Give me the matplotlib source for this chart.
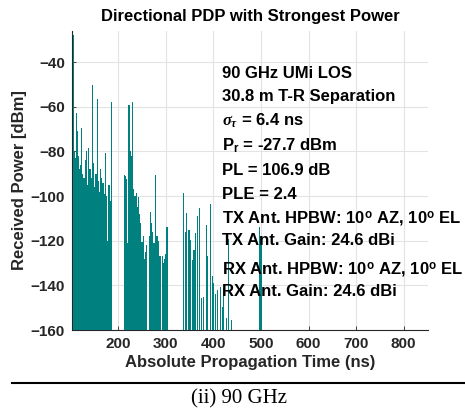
import matplotlib
matplotlib.use("Agg")
from matplotlib import pyplot as plt
from matplotlib.lines import Line2D

plt.rcParams["font.family"] = ["Liberation Sans", "DejaVu Sans"]
plt.rcParams["font.weight"] = "bold"
plt.rcParams["mathtext.fontset"] = "custom"
plt.rcParams["mathtext.rm"] = "Liberation Sans:bold"
plt.rcParams["mathtext.it"] = "Liberation Serif:italic"
plt.rcParams["mathtext.bf"] = "Liberation Sans:bold"

# cluster 1
delay_c1 = [105.5, 108, 110, 112, 114, 116, 118, 120.5, 123, 125.5, 128, 130.5,
            133, 135.5, 138, 140.5, 143, 145.5, 148, 150.5, 153, 155.5, 158, 160.5,
            163, 165.5, 168, 170.5, 173, 175.5, 178, 180.5, 183, 185.5]
power_c1 = [-27.7, -80, -83, -62.8, -71, -82, -88, -86, -69.6, -90, -92, -84,
            -80, -95, -78.5, -88, -92, -50.3, -85, -96, -90, -56.6, -93, -98,
            -88, -92, -94, -99, -80.7, -100, -120, -95, -102, -58]

# cluster 2
delay_c2 = [212.5, 215, 217.5, 220, 222.5, 225, 227.5, 230, 232.5, 235, 237.5, 240,
            242.5, 245, 247.5, 250, 252.5, 255, 257.5, 260, 265, 267.5, 270, 272.5,
            275, 277.5, 280, 282.5, 285, 287.5, 292.5, 295, 297.5, 300, 302.5]
power_c2 = [-90.6, -91, -92.4, -121, -59.3, -80, -82, -57.8, -97, -100, -98.5, -105,
            -100.3, -108, -112, -120.5, -118, -128, -125, -122, -118, -107, -112, -116,
            -121, -90.6, -118, -118, -120, -127, -127, -130, -128, -126, -113.7]

# cluster 3
delay_c3 = [336.8, 341.6, 343.7, 348.5, 350.6, 355.6, 359, 362.5, 366.1, 371.5, 375.1,
            379.9, 384.9, 388.3, 393.9, 397.5, 400.8, 404.4, 408, 414.8, 418.4, 421.7,
            427.4, 432.2, 437.2]
power_c3 = [-98.8, -116, -107.5, -115, -119.7, -128.7, -124, -116.7, -109, -105.5, -145.7,
            -145, -113, -127, -103.6, -136, -139, -144, -142, -140.6, -149.6, -141,
            -154.6, -119, -155.5]

# late arrivals
delay_c4 = [497, 500]
power_c4 = [-113.7, -118]

info_lines = ["90 GHz UMi LOS", "30.8 m T-R Separation", r"$\sigma_\tau$ = 6.4 ns",
              r"P$_\mathrm{r}$ = -27.7 dBm", "PL = 106.9 dB", "PLE = 2.4",
              r"TX Ant. HPBW: 10$^\mathrm{o}$ AZ, 10$^\mathrm{o}$ EL",
              "TX Ant. Gain: 24.6 dBi",
              r"RX Ant. HPBW: 10$^\mathrm{o}$ AZ, 10$^\mathrm{o}$ EL",
              "RX Ant. Gain: 24.6 dBi"]
info_y = [73, 97, 121, 146, 170, 194, 219, 240, 270, 292]

floor = -160
teal = "#00807f"

fig = plt.figure(figsize=(4.65, 4.15), dpi=100)
ax = fig.add_axes([72 / 465, 1 - 330 / 415, 356 / 465, 299 / 415])

delays = delay_c1 + delay_c2 + delay_c3 + delay_c4
powers = power_c1 + power_c2 + power_c3 + power_c4
ax.bar(delays, [p - floor for p in powers], bottom=floor, width=2.5,
       color=teal, edgecolor="none", linewidth=0, zorder=2)

ax.set_xlim(102.7, 851)
ax.set_ylim(-160, -26)
ax.set_xticks([200, 300, 400, 500, 600, 700, 800])
ax.set_yticks([-40, -60, -80, -100, -120, -140, -160])
ax.grid(True, color="#e3e3e3", linewidth=0.8, zorder=0)
ax.set_axisbelow(True)
for s in ["top", "right"]:
    ax.spines[s].set_visible(False)
for s in ["left", "bottom"]:
    ax.spines[s].set_color("#262626")
    ax.spines[s].set_linewidth(0.8)
    ax.spines[s].set_zorder(1)
ax.tick_params(direction="in", length=3, width=0.6, colors="#262626",
               labelsize=11, pad=5)
for lab in ax.get_xticklabels() + ax.get_yticklabels():
    lab.set_fontweight("bold")

ax.set_title("Directional PDP with Strongest Power", fontsize=12,
             fontweight="bold", pad=7)
ax.set_xlabel("Absolute Propagation Time (ns)", fontsize=12,
              fontweight="bold", color="#262626", labelpad=3)
ax.set_ylabel("Received Power [dBm]", fontsize=12, fontweight="bold",
              color="#262626", labelpad=3)

for txt, py in zip(info_lines, info_y):
    fig.text(222 / 465, 1 - py / 415, txt, fontsize=12, fontweight="bold",
             va="center", ha="left", color="black")

fig.add_artist(Line2D([12 / 465, 1], [1 - 383 / 415, 1 - 383 / 415],
                      color="black", linewidth=1.5))
fig.text(239 / 465, 1 - 399 / 415, "(ii) 90 GHz", fontsize=15,
         family=["Liberation Serif", "DejaVu Serif"], fontweight="normal",
         ha="center", va="center")

fig.savefig("out.png", dpi=100)
